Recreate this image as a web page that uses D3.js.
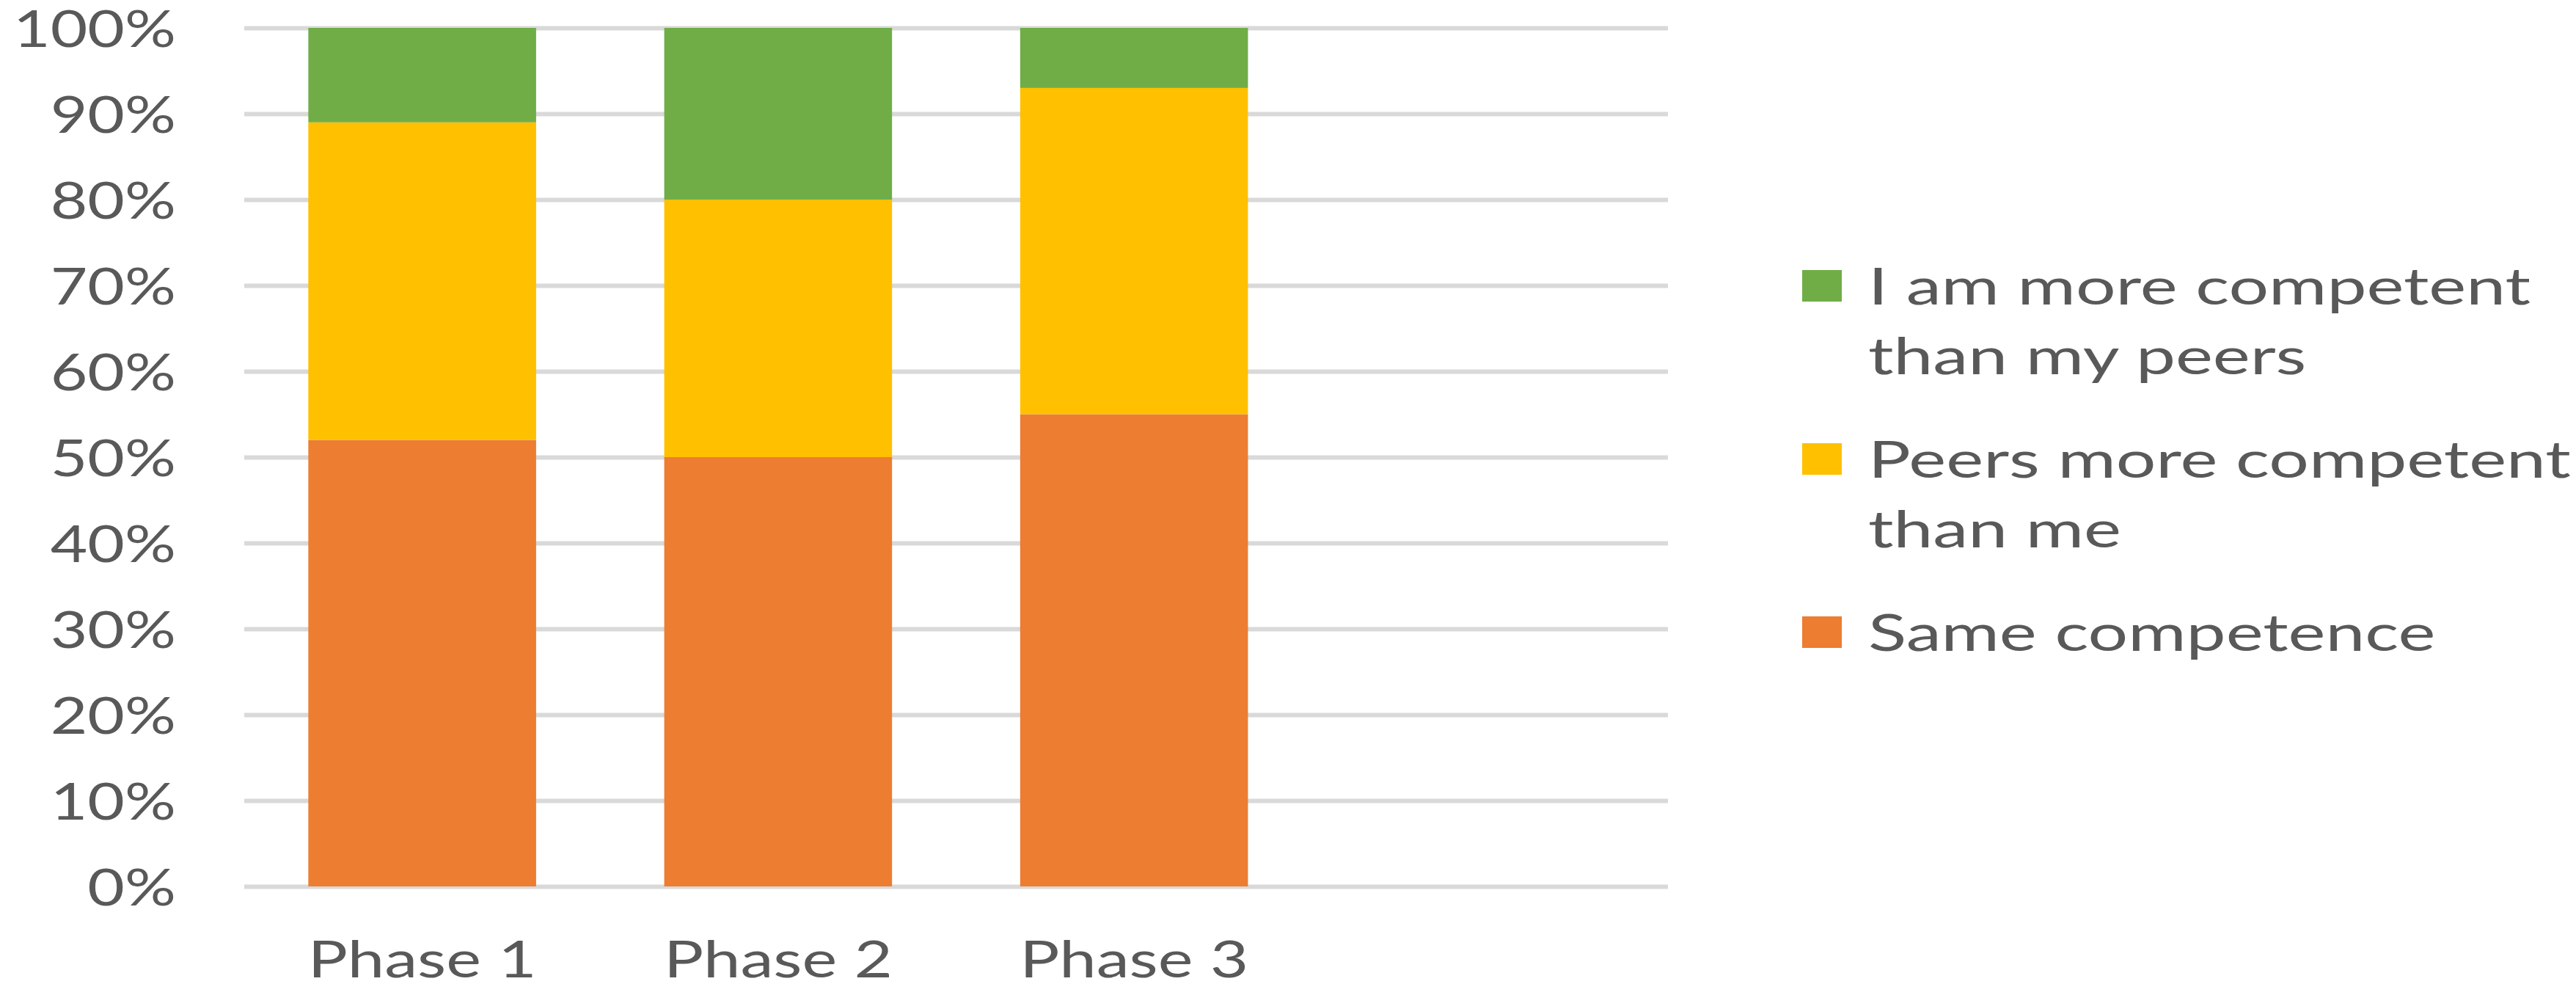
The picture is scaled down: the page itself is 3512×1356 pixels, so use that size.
<!DOCTYPE html>
<html>
<head>
<meta charset="utf-8">
<script src="https://cdn.jsdelivr.net/npm/d3@7"></script>
<style>
  html, body { margin: 0; padding: 0; background: #ffffff; }
  svg { display: block; }
  text { font-family: Lato, "Open Sans", sans-serif; fill: #595959; }
</style>
</head>
<body>
<svg id="chart" width="3512" height="1356"></svg>
<script>
// ---- data ----
const categories = ["Phase 1", "Phase 2", "Phase 3"];
const emptySlots = [""];  // empty category slot at the right of the plot
const seriesNames = ["Same competence", "Peers more competent than me", "I am more competent than my peers"];
const sameCompetence = [52, 50, 55];
const peersMoreCompetent = [37, 30, 38];
const iAmMoreCompetent = [11, 20, 7];
const yTicks = [0, 10, 20, 30, 40, 50, 60, 70, 80, 90, 100];
const yTickLabels = ["0%", "10%", "20%", "30%", "40%", "50%", "60%", "70%", "80%", "90%", "100%"];
const legendLines = [["I am more competent", "than my peers"], ["Peers more competent", "than me"], ["Same competence"]];
const colors = { "Same competence": "#ed7d31", "Peers more competent than me": "#ffc000", "I am more competent than my peers": "#70ad47" };

// ---- layout ----
const svg = d3.select("#chart");
const margin = { left: 333, top: 38, right: 3512 - 2274, bottom: 1356 - 1208 };
const W = 3512 - margin.left - margin.right;
const H = 1356 - margin.top - margin.bottom;
const FS = 70;

// measure natural text widths to derive horizontal stretch (reference image is stretched)
function measure(str) {
  const t = svg.append("text").attr("font-size", FS).text(str);
  const w = t.node().getComputedTextLength();
  t.remove();
  return w;
}
const S_leg = 903 / measure("I am more competent");
const S_y = 222 / measure("100%");
const S_x = 312 / measure("Phase 1");

const g = svg.append("g").attr("transform", `translate(${margin.left},${margin.top})`);

const x = d3.scaleBand().domain(categories.concat(emptySlots)).range([0, W]).paddingInner(0.36).paddingOuter(0.18);
const y = d3.scaleLinear().domain([0, 100]).range([H, 0]);

// gridlines + y labels
const yAxis = d3.axisLeft(y).tickValues(yTicks).tickSize(-W).tickPadding(0)
  .tickFormat((d, i) => yTickLabels[i]);
const ya = g.append("g").call(yAxis);
ya.select(".domain").remove();
ya.selectAll(".tick line").attr("stroke", "#d9d9d9").attr("stroke-width", 6);
ya.selectAll(".tick text")
  .attr("x", 0).attr("dy", "0.36em")
  .attr("font-size", FS).attr("fill", "#595959")
  .attr("text-anchor", "end")
  .attr("transform", `translate(-93,0) scale(${S_y},1)`);

// stacked bars
const table = categories.map((c, i) => ({
  cat: c,
  "Same competence": sameCompetence[i],
  "Peers more competent than me": peersMoreCompetent[i],
  "I am more competent than my peers": iAmMoreCompetent[i]
}));
const stack = d3.stack().keys(seriesNames)(table);
g.append("g").selectAll("g").data(stack).join("g")
  .attr("fill", d => colors[d.key])
  .selectAll("rect").data(d => d).join("rect")
  .attr("x", d => x(d.data.cat))
  .attr("width", x.bandwidth())
  .attr("y", d => y(d[1]))
  .attr("height", d => y(d[0]) - y(d[1]));

// x labels
const xAxis = d3.axisBottom(x).tickSize(0).tickPadding(0);
const xa = g.append("g").attr("transform", `translate(0,${H})`).call(xAxis);
xa.select(".domain").remove();
xa.selectAll(".tick text")
  .attr("y", 0).attr("dy", 0)
  .attr("font-size", FS).attr("fill", "#595959")
  .attr("transform", `translate(0,124) scale(${S_x},1)`);

// legend
const legendOrder = ["I am more competent than my peers", "Peers more competent than me", "Same competence"];
const leg = svg.append("g").attr("transform", "translate(2457,415)");
legendOrder.forEach((k, i) => {
  const item = leg.append("g").attr("transform", `translate(0,${i * 236})`);
  item.append("rect").attr("x", 0).attr("y", -47).attr("width", 54).attr("height", 43).attr("fill", colors[k]);
  legendLines[i].forEach((line, j) => {
    item.append("text")
      .attr("font-size", FS)
      .attr("transform", `translate(90,${j * 95}) scale(${S_leg},1)`)
      .text(line);
  });
});
</script>
</body>
</html>
